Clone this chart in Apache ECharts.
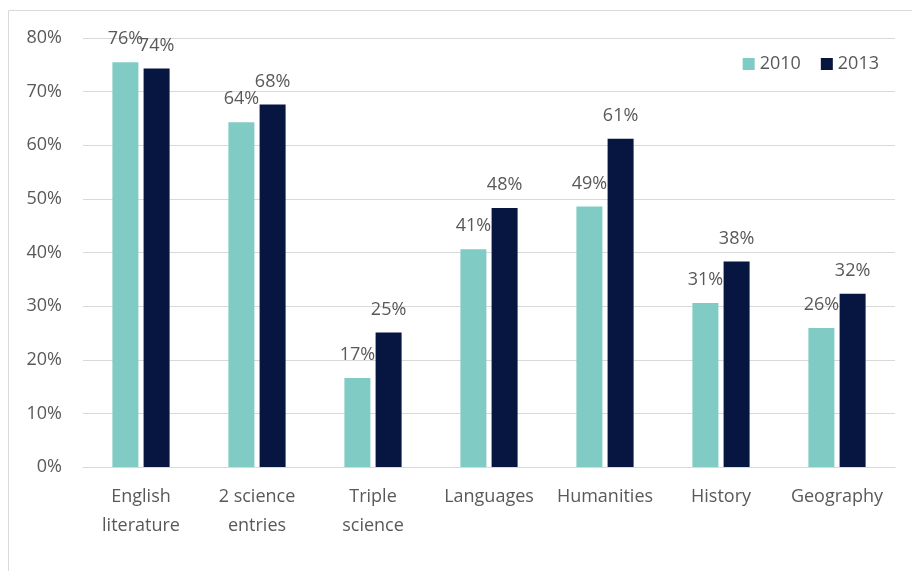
<!DOCTYPE html>
<html>
<head>
<meta charset="utf-8">
<script src="https://cdn.jsdelivr.net/npm/echarts@6/dist/echarts.min.js"></script>
<style>html,body{margin:0;padding:0;background:#fff;}#c{width:912px;height:571px;}</style>
</head>
<body>
<div id="c"></div>
<script>
const categories = ['English\nliterature', '2 science\nentries', 'Triple\nscience', 'Languages', 'Humanities', 'History', 'Geography'];
const values2010 = [75.5, 64.3, 16.6, 40.6, 48.6, 30.6, 25.9];
const values2013 = [74.3, 67.6, 25.1, 48.3, 61.2, 38.3, 32.3];
const yTicks = [0, 10, 20, 30, 40, 50, 60, 70, 80];

const FONT = "'Open Sans', sans-serif";
const chart = echarts.init(document.getElementById('c'), null, {renderer: 'canvas'});
const labelStyle = {
  show: true, position: 'top', distance: 14,
  color: '#595959', fontFamily: FONT, fontSize: 18,
  formatter: p => Math.round(p.value) + '%'
};
chart.setOption({
  animation: false,
  backgroundColor: '#fff',
  graphic: [{
    type: 'rect', shape: {x: 8.5, y: 10.5, width: 920, height: 600},
    style: {fill: 'none', stroke: '#d9d9d9', lineWidth: 1}, silent: true
  }],
  legend: {
    data: ['2010', '2013'], right: 28, top: 50,
    itemWidth: 12, itemHeight: 12, itemGap: 20, icon: 'rect',
    textStyle: {color: '#595959', fontFamily: FONT, fontSize: 18}
  },
  grid: {left: 83, right: 17, top: 38, bottom: 104, containLabel: false},
  xAxis: {
    type: 'category', data: categories,
    axisLine: {lineStyle: {color: '#d9d9d9', width: 1}},
    axisTick: {show: false},
    axisLabel: {color: '#595959', fontFamily: FONT, fontSize: 18, lineHeight: 29, margin: 15, interval: 0}
  },
  yAxis: {
    type: 'value', min: yTicks[0], max: yTicks[yTicks.length - 1], interval: 10,
    axisLine: {show: false}, axisTick: {show: false},
    splitLine: {lineStyle: {color: '#d9d9d9', width: 1}},
    axisLabel: {color: '#595959', fontFamily: FONT, fontSize: 18, margin: 21, formatter: v => v + '%'}
  },
  series: [
    {name: '2010', type: 'bar', data: values2010, barWidth: 26, barGap: '20%',
     itemStyle: {color: '#80cbc4'}, label: labelStyle},
    {name: '2013', type: 'bar', data: values2013, barWidth: 26, barGap: '20%',
     itemStyle: {color: '#071641'}, label: labelStyle}
  ]
});
</script>
</body>
</html>
